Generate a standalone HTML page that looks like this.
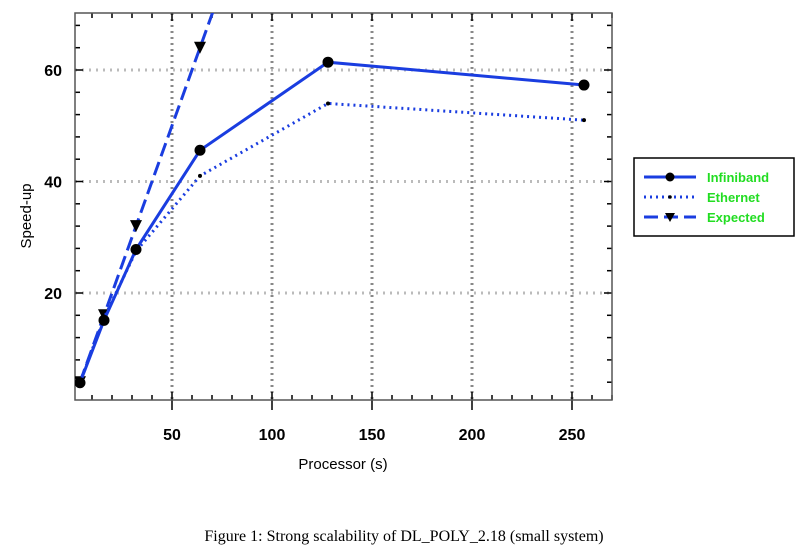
<!DOCTYPE html>
<html><head><meta charset="utf-8"><style>
body{margin:0;background:#fff;width:811px;height:552px;overflow:hidden}
text{font-family:"Liberation Sans",sans-serif}
</style></head><body>
<svg id="c" width="811" height="552" xmlns="http://www.w3.org/2000/svg"></svg>
<script>
const xs=[4,16,32,64,128,256];
const infiniband=[3.9,15.1,27.8,45.6,61.4,57.3];
const ethernet=[4,15.5,27.5,41,54,51];
const expected=[4,16,32,64,128,256];
const xTicks=[50,100,150,200,250];
const yTicks=[20,40,60];
const L=75,R=612,T=13,B=400;
const X=v=>72+v*2, Y=v=>404.5-v*5.575;
const NS="http://www.w3.org/2000/svg";
const svg=document.getElementById('c');
function el(t,a,p){const e=document.createElementNS(NS,t);for(const k in a)e.setAttribute(k,a[k]);(p||svg).appendChild(e);return e;}
const defs=el('defs',{});const cp=el('clipPath',{id:'clip'},defs);el('rect',{x:L,y:T,width:R-L,height:B-T},cp);
for(const t of xTicks){const g=el('line',{x1:X(t),x2:X(t),y1:T,y2:B,stroke:'#888','stroke-width':3,'stroke-dasharray':'2 4'});

}
for(const t of yTicks){const g=el('line',{x1:L,x2:R,y1:Y(t),y2:Y(t),stroke:'#bbb','stroke-width':3,'stroke-dasharray':'2 5'});

}
for(let v=10;v<=270;v+=10){const big=v%50==0;el('line',{x1:X(v),x2:X(v),y1:big?B+10:B,y2:B-(big?8:5),stroke:'#000','stroke-width':1.5});el('line',{x1:X(v),x2:X(v),y1:T,y2:T+(big?8:5),stroke:'#000','stroke-width':1.5});}
for(let v=4;v<=70;v+=4){const big=v%20==0;el('line',{x1:L,x2:L+(big?8:5),y1:Y(v),y2:Y(v),stroke:'#000','stroke-width':1.5});el('line',{x1:R,x2:R-(big?8:5),y1:Y(v),y2:Y(v),stroke:'#000','stroke-width':1.5});}
const fr=el('rect',{x:L,y:T,width:R-L,height:B-T,fill:'none',stroke:'#555','stroke-width':1.5});


for(const t of xTicks){const tx=el('text',{x:X(t),y:440,'text-anchor':'middle','font-size':16,'font-weight':'bold'});tx.textContent=t;

}
for(const t of yTicks){const tx=el('text',{x:62,y:Y(t)+6,'text-anchor':'end','font-size':16,'font-weight':'bold'});tx.textContent=t;

}
const g=el('g',{'clip-path':'url(#clip)'});
function series(vals,dash,name,marker){
 const pts=xs.map((x,i)=>X(x)+','+Y(vals[i])).join(' ');
 const p=el('polyline',{points:pts,fill:'none',stroke:'#1a3de0','stroke-width':3,'stroke-dasharray':dash},g);
 
 
 xs.forEach((x,i)=>{const cx=X(x),cy=Y(vals[i]);let m;
  if(marker=='circle')m=el('circle',{cx,cy,r:5.5,fill:'#000'},g);
  else if(marker=='dot')m=el('circle',{cx,cy,r:2,fill:'#000'},g);
  else m=el('polygon',{points:`${cx-6},${cy-6} ${cx+6},${cy-6} ${cx},${cy+6}`,fill:'#000'},g);
  
  });
}
series(expected,'14 6','expected','tri');
series(ethernet,'2 4','ethernet','dot');
series(infiniband,'','infiniband','circle');
const yl=el('text',{x:0,y:0,transform:'translate(31,216) rotate(-90)','text-anchor':'middle','font-size':15});yl.textContent='Speed-up';

const xl=el('text',{x:343,y:469,'text-anchor':'middle','font-size':15});xl.textContent='Processor (s)';

const cap=el('text',{x:404,y:541,'text-anchor':'middle','font-size':16,style:'font-family:"Liberation Serif",serif'});cap.textContent='Figure 1: Strong scalability of DL_POLY_2.18 (small system)';

const lg=el('g',{});
el('rect',{x:634,y:158,width:160,height:78,fill:'#fff',stroke:'#000','stroke-width':1.5},lg);
const items=[['Infiniband','','circle',177],['Ethernet','2 4','dot',197],['Expected','14 6','tri',217]];
for(const [n,d,m,y] of items){
 const e=el('g',{},lg);
 el('line',{x1:644,x2:696,y1:y,y2:y,stroke:'#1a3de0','stroke-width':3,'stroke-dasharray':d},e);
 if(m=='circle')el('circle',{cx:670,cy:y,r:4.5,fill:'#000'},e);
 else if(m=='dot')el('circle',{cx:670,cy:y,r:1.8,fill:'#000'},e);
 else el('polygon',{points:`665,${y-4} 675,${y-4} 670,${y+5}`,fill:'#000'},e);
 const t=el('text',{x:707,y:y+5,'font-size':13,'font-weight':'bold',fill:'#22dd22'},e);t.textContent=n;
}
</script>
</body></html>
